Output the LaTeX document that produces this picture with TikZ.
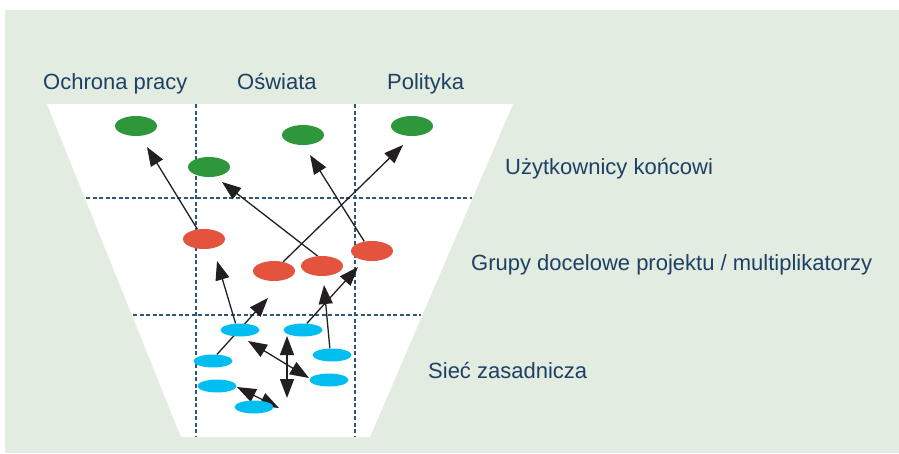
\documentclass[tikz,border=0pt]{standalone}
\usepackage{fontspec}
\setmainfont{Liberation Sans}
\usetikzlibrary{shapes.geometric,arrows.meta}
\definecolor{bgc}{HTML}{E2ECE1}
\definecolor{txt}{HTML}{1E4064}
\definecolor{dashc}{HTML}{2E5779}
\definecolor{gr}{HTML}{2E973B}
\definecolor{rd}{HTML}{E4533D}
\definecolor{bl}{HTML}{00BEF0}
\definecolor{ink}{HTML}{231F20}
\pgfdeclarelayer{back}
\pgfdeclarelayer{mid}
\pgfsetlayers{back,mid,main}
\tikzset{
  lbl/.style={anchor=base west, inner sep=0pt, text=txt, font=\fontsize{22}{26}\selectfont},
  gell/.style={ellipse, fill=gr, minimum width=42pt, minimum height=20pt, inner sep=0pt},
  rell/.style={ellipse, fill=rd, minimum width=42pt, minimum height=20pt, inner sep=0pt},
  bell/.style={ellipse, fill=bl, minimum width=39pt, minimum height=13pt, inner sep=0pt},
  grid/.style={dashc, line width=1.2pt, dash pattern=on 4pt off 2.5pt},
  tip/.tip={Triangle[length=19pt,width=14pt]},
  arr/.style={ink, line width=1.3pt, -tip},
  darr/.style={ink, line width=1.3pt, tip-tip}
}
\begin{document}
\begin{tikzpicture}[x=1pt,y=-1pt]
\useasboundingbox (0,0) rectangle (899,453);
\begin{pgfonlayer}{back}
\fill[bgc] (5,10) rectangle (899,453);
\fill[white] (47,104) -- (513,104) -- (370,437) -- (181,437) -- cycle;
\draw[grid] (196,104) -- (196,437);
\draw[grid] (355,104) -- (355,437);
\draw[grid] (86,198) -- (472,198);
\draw[grid] (133,315) -- (421,315);
\end{pgfonlayer}
% labels
\node[lbl] (t1) at (43,89) {Ochrona pracy};
\node[lbl] (t2) at (237,89) {Oświata};
\node[lbl] (t3) at (387,89) {Polityka};
\node[lbl] (t4) at (505,174) {Użytkownicy końcowi};
\node[lbl] (t5) at (471,270) {Grupy docelowe projektu / multiplikatorzy};
\node[lbl] (t6) at (428,378) {Sieć zasadnicza};
% green
\node[gell] (g1) at (136,126) {};
\node[gell] (g2) at (209,167) {};
\node[gell] (g3) at (303,135) {};
\node[gell] (g4) at (412,126) {};
% red
\node[rell] (r1) at (204,239) {};
\node[rell] (r2) at (274,271) {};
\node[rell] (r3) at (322,266) {};
\node[rell] (r4) at (372,251) {};
% blue
\node[bell] (b1) at (240,330) {};
\node[bell] (b2) at (303,330) {};
\node[bell] (b3) at (213,361) {};
\node[bell] (b4) at (332,355) {};
\node[bell] (b5) at (217,386) {};
\node[bell] (b6) at (329,380) {};
\node[bell] (b7) at (254,407) {};
% arrow free ends
\coordinate (ta) at (147,147);
\coordinate (tb) at (222,182);
\coordinate (tc) at (403,145);
\coordinate (td) at (310,155);
\coordinate (te) at (217,261);
\coordinate (tf) at (268,298);
\coordinate (tg) at (358,267);
\coordinate (th) at (324,285);
\coordinate (i1) at (248,341);
\coordinate (i2) at (309,378);
\coordinate (j1) at (287,336);
\coordinate (j2) at (287,398);
\coordinate (k1) at (237,387);
\coordinate (k2) at (279,408);
\begin{pgfonlayer}{mid}
\draw[arr] (r1.124) -- (ta);
\draw[arr] (r3.114) -- (tb);
\draw[arr] (r2.45) -- (tc);
\draw[arr] (r4.129) -- (td);
\draw[arr] (b1.124) -- (te);
\draw[arr] (b3.59) -- (tf);
\draw[arr] (b2.60) -- (tg);
\draw[arr] (b4.108) -- (th);
\draw[darr] (i1) -- (i2);
\draw[darr] (j1) -- (j2);
\draw[darr] (k1) -- (k2);
\end{pgfonlayer}
\end{tikzpicture}
\end{document}
